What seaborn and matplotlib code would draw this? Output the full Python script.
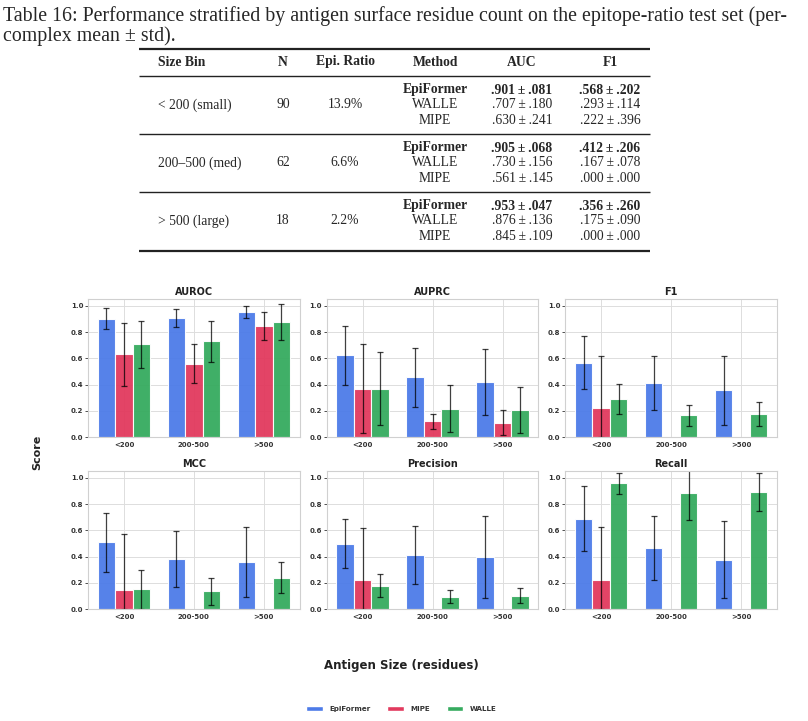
import matplotlib
matplotlib.use("Agg")
import matplotlib.pyplot as plt
from matplotlib.patches import Patch
import seaborn as sns
import pandas as pd

# --- DADOS ---
metrics = ["AUROC", "AUPRC", "F1", "MCC", "Precision", "Recall"]
size_bins = ["<200", "200-500", ">500"]
methods = ["EpiFormer", "MIPE", "WALLE"]

# uma linha por métrica, uma coluna por faixa de tamanho
epiformer_mean = [[.901, .905, .953], [.623, .455, .420], [.568, .412, .356],
                  [.510, .385, .360], [.500, .412, .397], [.690, .465, .377]]
epiformer_std = [[.081, .068, .047], [.225, .225, .252], [.202, .206, .260],
                 [.224, .213, .267], [.190, .222, .312], [.250, .245, .293]]
mipe_mean = [[.630, .561, .845], [.370, .120, .112], [.222, .000, .000],
             [.148, .000, .000], [.225, .000, .000], [.220, .000, .000]]
mipe_std = [[.241, .145, .109], [.340, .055, .092], [.396, .000, .000],
            [.424, .000, .000], [.395, .000, .000], [.405, .000, .000]]
walle_mean = [[.707, .730, .876], [.370, .217, .207], [.293, .167, .175],
              [.153, .135, .240], [.180, .095, .102], [.957, .886, .893]]
walle_std = [[.180, .156, .136], [.280, .178, .177], [.114, .078, .090],
             [.148, .103, .120], [.085, .050, .058], [.080, .206, .147]]

palette = {"EpiFormer": "#4D7BE8", "MIPE": "#E23A5E", "WALLE": "#36AB5F"}

# tabela do topo
caption_line1 = "Table 16: Performance stratified by antigen surface residue count on the epitope-ratio test set (per-"
caption_line2 = "complex mean \u00b1 std)."
table_header = ["Size Bin", "N", "Epi. Ratio", "Method", "AUC", "F1"]
table_bins = ["< 200 (small)", "200\u2013500 (med)", "> 500 (large)"]
table_n = ["90", "62", "18"]
table_ratio = ["13.9%", "6.6%", "2.2%"]
table_methods = ["EpiFormer", "WALLE", "MIPE"]
table_auc = [[".901\u00b1.081", ".707\u00b1.180", ".630\u00b1.241"],
             [".905\u00b1.068", ".730\u00b1.156", ".561\u00b1.145"],
             [".953\u00b1.047", ".876\u00b1.136", ".845\u00b1.109"]]
table_f1 = [[".568\u00b1.202", ".293\u00b1.114", ".222\u00b1.396"],
            [".412\u00b1.206", ".167\u00b1.078", ".000\u00b1.000"],
            [".356\u00b1.260", ".175\u00b1.090", ".000\u00b1.000"]]


def pm(s):
    # espaço fino em volta do ±, como no LaTeX
    return s.replace("\u00b1", "\u2009\u00b1\u2009")


# --- MONTAGEM DO DATAFRAME ---
rows = []
for name, means, stds in [("EpiFormer", epiformer_mean, epiformer_std),
                          ("MIPE", mipe_mean, mipe_std),
                          ("WALLE", walle_mean, walle_std)]:
    for i, metric in enumerate(metrics):
        for j, b in enumerate(size_bins):
            rows.append({"Metric": metric, "Size": b, "Method": name,
                         "Mean": means[i][j], "Std": stds[i][j]})
df = pd.DataFrame(rows)

# --- FIGURA ---
sns.set_theme(style="whitegrid")
plt.rcParams["font.family"] = ["DejaVu Sans"]
fig = plt.figure(figsize=(8.08, 7.21), dpi=100)

# tabela desenhada em coordenadas de pixel
ax_t = fig.add_axes([0, 0, 1, 1], zorder=-1)
ax_t.set_xlim(0, 808)
ax_t.set_ylim(721, 0)
ax_t.axis("off")
serif = ["Liberation Serif", "DejaVu Serif"]
ax_t.text(3, 16, caption_line1, family=serif, fontsize=14.3, va="center", ha="left")
ax_t.text(3, 36, caption_line2, family=serif, fontsize=14.3, va="center", ha="left")

col_x = [158, 283, 345, 435, 522, 610]
col_ha = ["left", "center", "center", "center", "center", "center"]
tfs = 9.8
for x, h, ha in zip(col_x, table_header, col_ha):
    ax_t.text(x, 62, h, family=serif, fontsize=tfs, fontweight="bold", ha=ha, va="center")

group_y = [[90, 105, 120], [148, 163, 178], [206, 221, 236]]
for g in range(3):
    ys = group_y[g]
    ax_t.text(col_x[0], ys[1], table_bins[g], family=serif, fontsize=tfs, ha="left", va="center")
    ax_t.text(col_x[1], ys[1], table_n[g], family=serif, fontsize=tfs, ha="center", va="center")
    ax_t.text(col_x[2], ys[1], table_ratio[g], family=serif, fontsize=tfs, ha="center", va="center")
    for k in range(3):
        w = "bold" if k == 0 else "normal"
        ax_t.text(col_x[3], ys[k], table_methods[k], family=serif, fontsize=tfs, fontweight=w, ha="center", va="center")
        ax_t.text(col_x[4], ys[k], pm(table_auc[g][k]), family=serif, fontsize=tfs, fontweight=w, ha="center", va="center")
        ax_t.text(col_x[5], ys[k], pm(table_f1[g][k]), family=serif, fontsize=tfs, fontweight=w, ha="center", va="center")

for y, lw in [(49, 1.6), (76, 1.0), (134, 1.0), (192, 1.0), (251, 1.6)]:
    ax_t.plot([139, 650], [y, y], color="#222222", lw=lw, solid_capstyle="butt")

# grade de subplots
axes = fig.subplots(2, 3)
fig.subplots_adjust(left=0.109, right=0.9616, bottom=0.155, top=0.585,
                    wspace=0.127, hspace=0.246)

for ax, metric in zip(axes.flat, metrics):
    sub = df[df["Metric"] == metric]
    sns.barplot(data=sub, x="Size", y="Mean", hue="Method", hue_order=methods,
                order=size_bins, palette=palette, errorbar=None, width=0.75,
                saturation=1, edgecolor="white", linewidth=0.8, alpha=0.95,
                legend=False, ax=ax)
    for container, method in zip(ax.containers, methods):
        msub = sub[sub["Method"] == method].set_index("Size").loc[size_bins]
        for bar, m, s in zip(container, msub["Mean"], msub["Std"]):
            if s == 0:
                continue
            x = bar.get_x() + bar.get_width() / 2
            ax.errorbar(x, m, yerr=[[min(s, m)], [s]], fmt="none", ecolor="black",
                        alpha=0.75, elinewidth=0.9, capsize=2.2, capthick=0.9)
    ax.set_ylim(0, 1.05)
    ax.set_yticks([0, 0.2, 0.4, 0.6, 0.8, 1.0])
    ax.set_title(metric, fontsize=7, fontweight="bold", color="#222222", pad=3)
    ax.set_xlabel("")
    ax.set_ylabel("")
    ax.tick_params(axis="both", labelsize=5, colors="#333333", length=2, width=0.6, pad=1.5)
    ax.tick_params(axis="y", left=True)
    for lab in ax.get_xticklabels() + ax.get_yticklabels():
        lab.set_fontweight("bold")
    ax.grid(True, color="#dddddd", linewidth=0.7)
    for sp in ax.spines.values():
        sp.set_color("#d0d0d0")
        sp.set_linewidth(0.8)

fig.text(0.046, 0.372, "Score", rotation=90, fontsize=8, fontweight="bold",
         color="#222222", ha="center", va="center")
fig.text(0.497, 0.077, "Antigen Size (residues)", fontsize=8.5, fontweight="bold",
         color="#222222", ha="center", va="center")

handles = [Patch(facecolor=palette[m], edgecolor="white", label=m) for m in methods]
leg = fig.legend(handles=handles, loc="center", bbox_to_anchor=(0.497, 0.017), ncol=3,
                 frameon=False, fontsize=5.1, handlelength=2.3, handleheight=0.9,
                 columnspacing=2.3, handletextpad=1.0)
for t in leg.get_texts():
    t.set_fontweight("bold")
    t.set_color("#333333")

fig.savefig("out.png", dpi=100)
